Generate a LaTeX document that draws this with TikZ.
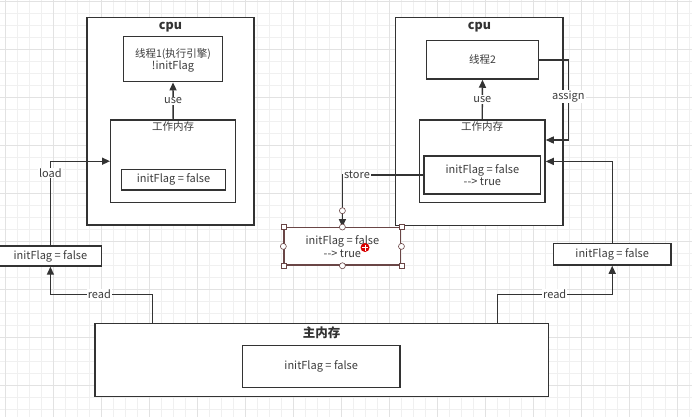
\documentclass[tikz,border=0pt]{standalone}
\usepackage{fontspec}
\setmainfont{Noto Sans CJK SC}
\usetikzlibrary{arrows.meta}
\definecolor{ln}{HTML}{333333}
\definecolor{txt}{HTML}{3C3C3C}
\definecolor{gridminor}{HTML}{F0F0F0}
\definecolor{gridmajor}{HTML}{E2E2E2}
\definecolor{sel}{HTML}{6A4646}

\begin{document}
\begin{tikzpicture}
[x=1pt,y=-1pt,%
  every node/.style={inner sep=0pt,text=txt,font=\fontsize{11}{12.5}\selectfont},%
  box/.style={draw=ln,line width=1.4pt,fill=white,align=center},%
  title/.style={font=\fontsize{12.5}{14}\selectfont\bfseries,text=ln},%
  zh/.style={font=\fontsize{10.5}{12}\selectfont},%
  lbl/.style={fill=white,inner sep=1pt},%
  link/.style={draw=ln,line width=1.4pt,-{Triangle[length=8pt,width=7pt]}},%
  sqhandle/.style={draw=sel,fill=white,line width=0.6pt,minimum size=5pt},%
  cihandle/.style={circle,draw=sel,fill=white,line width=0.6pt,minimum size=6pt}]
\useasboundingbox (0,0) rectangle (692,417);
% background grid
\foreach \gx in {5,17,...,689} \draw[gridminor,line width=0.7pt] (\gx,0) -- (\gx,417);
\foreach \gy in {1.5,13.5,...,409.5} \draw[gridminor,line width=0.7pt] (0,\gy) -- (692,\gy);
\foreach \gx in {5,53,...,677} \draw[gridmajor,line width=0.7pt] (\gx,0) -- (\gx,417);
\foreach \gy in {1.5,49.5,...,385.5} \draw[gridmajor,line width=0.7pt] (0,\gy) -- (692,\gy);

% left cpu
\node[box,minimum width=167pt,minimum height=207.7pt] (cpu1) at (170.5,121.2) {};
\node[title] (cpu1t) at (170.5,27) {cpu};
\node[box,minimum width=99.4pt,minimum height=45pt] (t1) at (173,59.2) {};
\node[zh] (t1a) at (173,54.3) {线程1(执行引擎)};
\node (t1b) at (173,66.5) {!initFlag};
\node[box,minimum width=125pt,minimum height=82.3pt] (wm1) at (173.2,161.2) {};
\node[zh] (wm1t) at (173.2,127) {工作内存};
\node[box,minimum width=104.4pt,minimum height=20.7pt] (f1) at (173.5,179.7) {initFlag = false};

% right cpu
\node[box,minimum width=167.3pt,minimum height=208.4pt] (cpu2) at (479.4,121.5) {};
\node[title] (cpu2t) at (479.4,27) {cpu};
\node[box,minimum width=111.6pt,minimum height=38.3pt] (t2) at (482.5,59.9) {};
\node[zh] (t2t) at (482.5,59.9) {线程2};
\node[box,minimum width=125.7pt,minimum height=82.7pt] (wm2) at (482.2,161.4) {};
\node[zh] (wm2t) at (482.2,127) {工作内存};
\node[box,minimum width=116.7pt,minimum height=38pt] (f2) at (482.4,175) {initFlag = false\\\mbox{-}\mbox{-}> true};

% copies next to the cpus
\node[box,minimum width=102.7pt,minimum height=20pt] (lbox) at (50.4,256) {initFlag = false};
\node[box,minimum width=117.7pt,minimum height=21.7pt] (rbox) at (612.2,254.2) {initFlag = false};
\node[box,draw=sel,minimum width=116.7pt,minimum height=37.3pt] (st) at (342.4,246.4) {initFlag = false\\\mbox{-}\mbox{-}> true};

% main memory
\node[box,minimum width=453.3pt,minimum height=73.4pt] (main) at (321.7,360) {};
\node[title] (maint) at (321.7,332.5) {主内存};
\node[box,minimum width=157.7pt,minimum height=42pt] (mf) at (321.2,366.7) {initFlag = false};

% connectors
\coordinate (rdL) at (152.3,294.3);
\coordinate (rdR) at (497.3,294.3);
\coordinate (asg) at (568.3,140);
\draw[link] (wm1.north) -- node[lbl] {use} (t1.south);
\draw[link] (wm2.north) -- node[lbl] {use} (t2.south);
\draw[link] (lbox.north) |- node[lbl,pos=0.43] {load} (wm1.west);
\draw[link] (rbox.north) |- (wm2.east);
\draw[link] (main.north -| rdL) -- (rdL) -| node[lbl,pos=0.26] {read} (lbox.south);
\draw[link] (main.north -| rdR) -- (rdR) -| node[lbl,pos=0.25] {read} (rbox.south);
\draw[link] (t2.east) -| node[lbl,pos=0.73] {assign} (asg) -- (asg -| wm2.east);
\draw[link] (f2.west) -| node[lbl,pos=0.41] {store} (st.north);

% selection handles
\foreach \an in {north west,north east,south west,south east}
  \node[sqhandle] at (st.\an) {};
\foreach \an in {north,south,east,west}
  \node[cihandle] at (st.\an) {};
\node[cihandle] (sth) at (342.4,210.7) {};
\fill[red!85!black] (365,247.5) circle (4.5pt);
\draw[white,line width=0.8pt] (362,247.5) -- (368,247.5) (365,244.5) -- (365,250.5);
\end{tikzpicture}
\end{document}
